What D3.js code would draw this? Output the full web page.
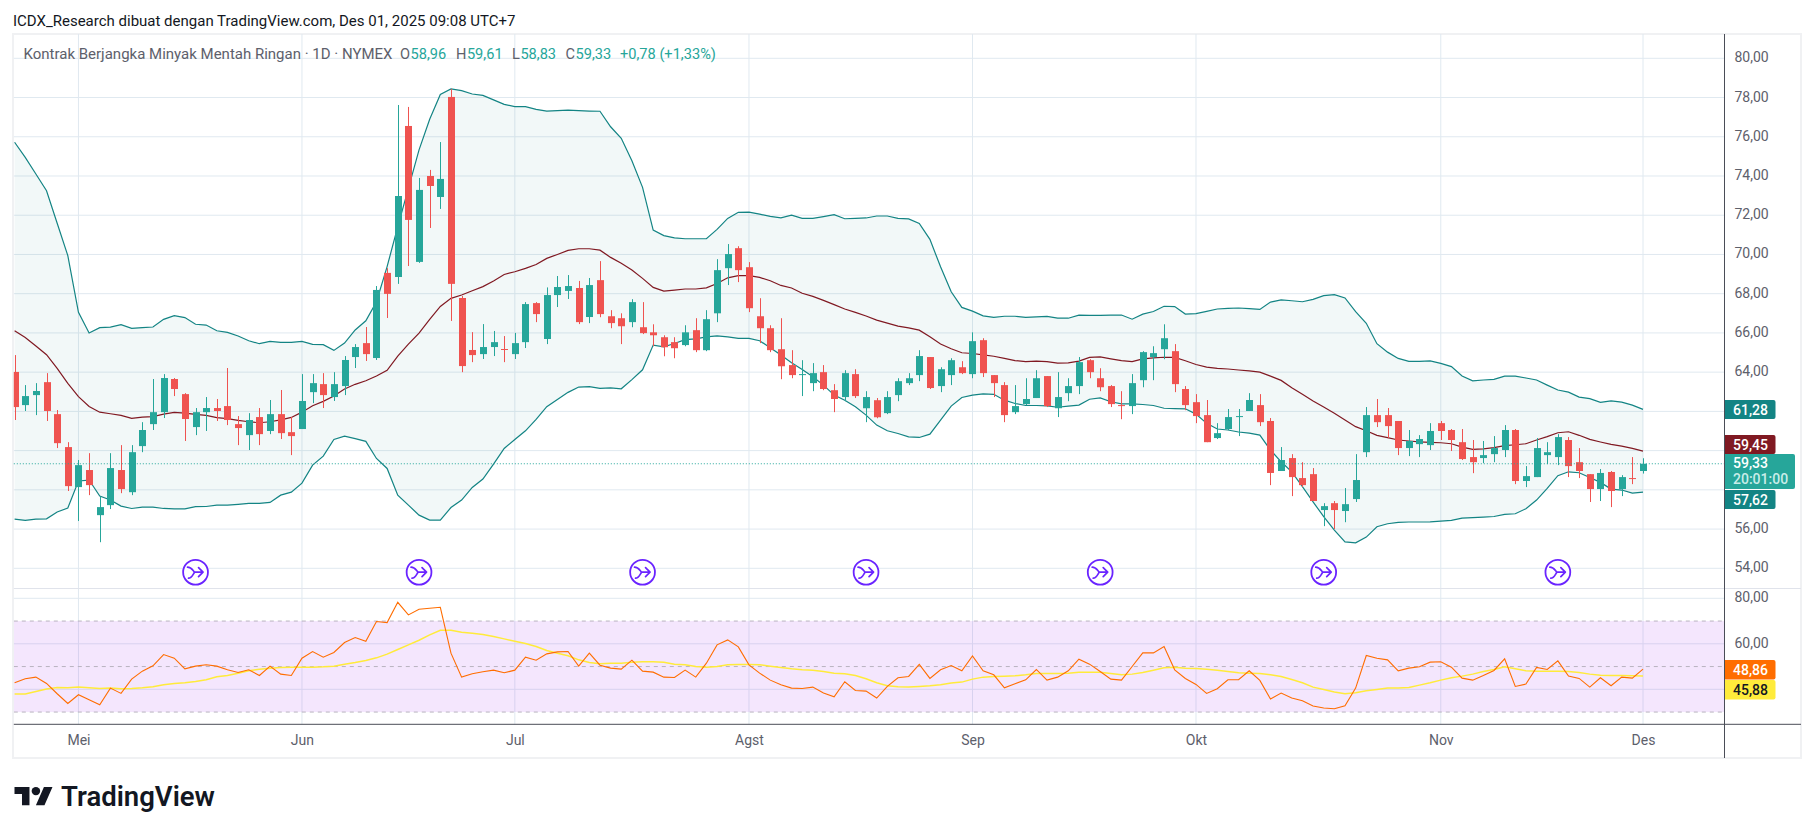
<!DOCTYPE html>
<html><head><meta charset="utf-8">
<script src="https://cdn.jsdelivr.net/npm/d3@7/dist/d3.min.js"></script>
<style>html,body{margin:0;padding:0;background:#fff}svg{display:block}text{font-family:Roboto,"Liberation Sans",sans-serif}</style>
</head><body><svg id="c" width="1814" height="834"></svg>
<script>
const open=[64.01,62.32,62.83,63.49,61.86,60.18,58.14,59.01,56.71,57.22,
59.01,57.88,60.23,61.35,61.96,63.65,62.88,61.20,61.96,62.17,
62.27,61.35,60.79,61.71,61.00,61.86,60.94,61.10,62.98,63.39,
62.73,63.29,64.77,65.48,64.72,69.06,68.85,76.55,69.62,74.00,
72.93,78.03,67.78,65.13,64.92,65.28,65.18,64.92,65.53,67.52,
65.69,67.93,68.14,68.29,66.81,68.69,66.85,66.75,66.55,66.29,
66.03,65.78,65.53,65.38,66.14,65.12,67.00,69.30,70.32,69.35,
66.85,66.24,65.17,64.36,63.85,63.44,64.00,63.08,62.73,63.90,
62.16,62.57,61.91,62.83,63.44,63.85,64.77,63.29,63.85,64.25,
63.90,65.63,63.85,63.34,61.96,62.37,62.68,63.80,62.16,62.93,
63.29,64.61,63.69,63.29,62.32,62.27,63.59,64.77,65.17,65.07,
63.14,62.47,61.81,60.64,61.10,61.71,62.02,62.32,61.51,58.96,
59.62,58.60,58.80,56.97,57.32,56.92,57.53,59.92,61.81,61.81,
61.51,60.13,60.33,60.28,61.40,61.05,60.43,59.67,59.62,59.82,
60.03,61.05,58.45,58.65,59.77,59.67,60.54,59.41,58.80,58.04,
58.91,58.04,58.60,58.96];
const close=[62.22,62.78,63.04,62.02,60.38,58.19,59.26,58.24,57.12,59.11,
58.04,59.92,61.05,61.96,63.70,63.14,61.61,61.96,62.17,62.02,
61.56,61.15,61.56,60.84,61.86,60.89,60.74,62.53,63.44,62.83,
63.39,64.62,65.28,64.92,68.19,67.99,72.98,71.76,73.29,73.49,
73.85,68.50,64.31,64.87,65.28,65.53,65.13,65.48,67.47,66.96,
67.93,68.34,68.39,66.55,68.44,66.96,66.50,66.34,67.57,65.99,
65.88,65.27,65.22,66.03,65.12,66.70,69.20,70.02,69.20,67.26,
66.24,65.12,64.30,63.85,63.90,63.95,63.14,62.63,63.95,62.78,
62.73,61.70,62.73,63.54,63.69,64.82,63.19,64.15,64.61,63.95,
65.58,63.95,63.44,61.81,62.27,62.63,63.69,62.27,62.73,63.29,
64.51,64.00,63.23,62.37,62.27,63.44,65.02,64.97,65.73,63.39,
62.32,61.76,60.43,60.89,61.71,61.76,62.58,61.45,58.86,59.52,
58.65,58.24,57.43,57.17,56.97,57.27,58.50,61.81,61.45,61.25,
60.13,60.49,60.59,61.00,61.00,60.54,59.57,59.41,59.77,60.13,
61.05,58.45,58.70,60.13,59.92,60.69,59.21,58.96,58.04,58.86,
57.94,58.65,58.55,59.33];
const high=[64.87,63.34,63.44,63.95,62.07,60.43,59.52,59.87,57.65,59.87,
60.28,60.28,61.45,63.65,63.90,63.70,62.93,62.17,62.73,62.63,
64.21,61.76,61.91,62.17,62.58,63.09,61.71,63.90,63.90,63.95,
64.00,64.82,65.43,66.30,68.39,69.30,77.62,77.52,73.90,74.31,
75.73,78.44,67.88,66.04,66.45,66.10,65.84,66.00,67.57,67.57,
68.32,68.90,68.95,68.65,68.80,69.66,67.16,67.00,67.72,67.57,
66.44,65.88,65.78,66.39,66.75,67.16,69.76,70.53,70.42,69.61,
67.77,66.39,66.75,65.12,64.61,64.46,64.36,63.39,64.10,64.15,
63.03,62.68,63.03,63.69,63.95,65.12,64.77,64.25,64.71,64.56,
66.03,65.73,63.85,63.49,63.34,63.69,64.10,63.80,64.00,63.69,
64.77,64.66,64.20,63.34,63.03,63.90,65.07,65.32,66.44,65.43,
63.29,62.88,62.58,61.40,62.12,62.12,62.93,62.88,61.66,60.18,
59.82,59.41,59.11,57.32,57.43,58.09,59.82,62.22,62.63,62.17,
61.51,61.05,60.79,61.40,61.51,61.10,61.10,60.54,60.49,60.74,
61.30,61.10,59.21,60.64,60.43,60.84,60.69,60.13,58.80,59.06,
58.96,58.75,59.67,59.61];
const low=[61.56,62.02,61.81,61.51,60.13,57.94,56.41,57.73,55.33,57.02,
57.83,57.73,59.92,61.05,61.66,62.78,60.49,60.79,61.00,61.51,
61.30,60.28,60.03,60.28,60.84,60.59,59.77,61.10,62.42,62.17,
62.53,62.83,64.21,64.57,64.62,66.76,68.50,69.41,69.57,71.35,
72.32,66.61,64.00,64.51,64.67,64.82,64.51,64.67,65.23,66.55,
65.43,67.32,67.73,66.45,66.50,66.80,66.24,65.43,66.29,65.94,
65.32,64.81,64.71,65.32,65.02,65.07,66.55,68.44,68.59,67.06,
65.48,65.02,63.64,63.69,62.78,63.03,63.08,61.96,62.52,62.68,
61.45,61.65,61.86,62.52,63.34,63.54,63.14,62.98,63.34,63.90,
63.69,63.75,62.73,61.45,61.86,62.32,62.68,62.22,61.71,62.52,
62.88,63.69,63.03,62.22,61.60,61.86,63.23,63.59,64.66,62.98,
62.06,61.40,60.43,60.59,61.05,60.74,62.02,61.25,58.24,58.96,
57.68,58.14,57.43,56.15,56.00,56.35,57.38,59.67,61.20,60.64,
59.77,59.72,59.67,60.03,60.54,59.98,59.52,58.85,59.36,59.41,
59.67,58.29,58.14,58.65,59.31,59.26,58.65,58.60,57.38,57.43,
57.12,57.68,58.29,58.83];
const bbUpper=[75.72,74.95,74.10,73.25,71.59,69.94,67.05,66.00,66.27,66.30,
66.42,66.23,66.27,66.30,66.69,66.88,66.78,66.44,66.40,66.11,
66.03,65.84,65.60,65.45,65.57,65.52,65.52,65.57,65.42,65.40,
65.11,65.48,66.15,66.62,67.59,69.38,71.42,73.37,75.33,76.89,
78.16,78.44,78.35,78.18,78.11,77.88,77.65,77.54,77.54,77.40,
77.31,77.33,77.36,77.33,77.31,77.30,76.51,75.92,74.78,73.42,
71.24,70.96,70.85,70.80,70.80,70.80,71.28,71.84,72.15,72.16,
72.06,71.94,71.87,72.00,71.84,71.84,71.93,72.03,71.82,71.84,
71.86,71.96,71.96,71.84,71.81,71.58,70.77,69.37,68.10,67.30,
67.11,66.87,66.79,66.85,66.85,66.79,66.82,66.84,66.75,66.75,
66.91,66.89,66.89,66.91,66.91,66.70,66.96,67.09,67.36,67.34,
66.96,66.98,67.10,67.22,67.25,67.27,67.24,67.20,67.57,67.68,
67.64,67.59,67.71,67.90,67.95,67.78,67.08,66.49,65.45,65.02,
64.70,64.55,64.55,64.57,64.45,64.28,63.80,63.56,63.60,63.63,
63.80,63.80,63.70,63.60,63.34,63.09,62.98,62.73,62.65,62.46,
62.54,62.47,62.32,62.10];
const bbBasis=[66.11,65.77,65.33,64.89,64.19,63.43,62.75,62.25,61.96,61.88,
61.80,61.64,61.71,61.73,61.86,61.95,61.91,61.85,61.80,61.68,
61.63,61.54,61.47,61.42,61.47,61.57,61.69,61.96,62.29,62.51,
62.78,63.14,63.38,63.56,63.80,64.09,64.82,65.43,65.99,66.69,
67.35,67.76,67.93,68.15,68.36,68.65,68.98,69.12,69.29,69.49,
69.80,70.00,70.21,70.29,70.29,70.22,69.85,69.55,69.21,68.78,
68.32,68.13,68.18,68.24,68.24,68.30,68.52,68.81,68.92,68.92,
68.83,68.66,68.42,68.29,68.02,67.86,67.66,67.44,67.22,67.05,
66.86,66.65,66.50,66.35,66.26,66.14,65.80,65.43,65.19,64.99,
64.95,64.88,64.81,64.70,64.59,64.54,64.56,64.54,64.46,64.47,
64.56,64.75,64.78,64.68,64.59,64.54,64.68,64.73,64.76,64.75,
64.58,64.39,64.26,64.19,64.16,64.11,64.06,64.00,63.80,63.58,
63.21,62.87,62.53,62.22,61.90,61.56,61.22,61.01,60.78,60.66,
60.54,60.49,60.45,60.42,60.40,60.35,60.18,60.06,60.09,60.15,
60.25,60.30,60.35,60.54,60.71,60.91,60.96,60.78,60.57,60.44,
60.32,60.23,60.11,59.97];
const bbLower=[56.51,56.44,56.51,56.52,56.87,57.07,58.45,58.50,57.68,57.48,
57.17,57.05,57.12,57.12,57.05,57.03,57.03,57.14,57.15,57.22,
57.22,57.26,57.31,57.31,57.36,57.73,57.88,58.34,59.26,59.72,
60.57,60.74,60.61,60.47,59.60,59.09,57.73,57.22,56.71,56.46,
56.46,57.10,57.48,58.12,58.55,59.31,60.11,60.57,61.01,61.59,
62.24,62.61,62.97,63.24,63.26,63.17,63.20,63.15,63.62,64.12,
65.38,65.29,65.46,65.66,65.70,65.80,65.85,65.80,65.72,65.72,
65.60,65.24,64.87,64.48,64.14,63.77,63.34,62.83,62.57,62.23,
61.81,61.30,61.01,60.87,60.70,60.67,60.84,61.55,62.27,62.71,
62.83,62.89,62.87,62.57,62.40,62.30,62.30,62.28,62.21,62.27,
62.32,62.62,62.69,62.49,62.38,62.38,62.35,62.30,62.16,62.14,
62.13,61.86,61.39,61.10,61.05,60.95,60.89,60.79,60.03,59.43,
58.92,58.16,57.39,56.63,55.95,55.35,55.30,55.59,56.12,56.27,
56.34,56.36,56.36,56.37,56.41,56.44,56.56,56.58,56.61,56.64,
56.75,56.78,57.04,57.48,58.07,58.72,58.92,58.87,58.63,58.38,
58.04,57.99,57.83,57.88];
const rsi=[42.87,44.62,45.35,42.57,38.04,33.80,37.60,35.41,33.22,40.53,
38.19,44.47,47.98,50.32,55.29,53.68,49.00,50.18,50.76,50.18,
48.57,47.40,48.57,46.08,50.18,46.67,46.08,53.68,56.61,54.12,
56.17,60.56,62.75,61.14,69.77,69.33,78.25,72.69,75.18,75.61,
76.05,55.88,45.35,46.81,47.69,48.42,47.25,48.42,54.12,52.81,
55.58,56.46,56.61,50.18,55.88,50.61,49.30,48.86,52.81,47.98,
47.54,45.35,45.20,48.42,45.35,51.49,59.53,61.72,58.65,50.76,
47.10,44.03,41.99,40.53,40.38,40.96,38.33,36.72,43.30,39.50,
39.21,36.14,41.26,45.06,45.64,50.91,44.77,48.57,50.47,48.13,
54.71,48.13,46.37,40.67,42.43,44.18,48.71,44.03,45.35,48.13,
53.25,51.05,47.84,44.47,44.03,50.03,56.02,56.02,58.80,48.57,
44.77,42.13,38.19,40.23,44.18,44.18,48.13,43.89,35.70,38.33,
36.14,34.97,32.63,31.75,31.46,32.78,40.53,54.85,53.68,52.95,
48.13,49.30,49.88,51.93,52.08,49.74,44.91,44.03,46.08,48.27,
53.39,41.26,42.28,49.59,48.71,52.51,45.79,44.77,40.96,45.06,
41.55,45.35,44.91,48.86];
const rsiMA=[37.89,37.89,39.06,40.09,40.82,40.67,40.96,40.67,40.38,40.53,
40.23,40.38,40.67,41.11,41.99,42.57,42.87,43.45,44.18,45.50,
46.08,47.10,48.13,48.86,49.30,49.59,49.74,49.74,49.74,49.88,
50.18,51.05,51.78,52.66,53.83,55.44,57.49,59.53,61.58,63.92,
65.96,65.96,65.09,64.65,64.06,63.19,62.16,61.14,60.12,58.80,
57.05,55.88,54.71,52.95,51.78,51.20,51.49,51.49,51.93,52.08,
52.08,51.93,51.05,50.76,50.03,49.74,50.03,50.76,50.91,50.91,
50.76,50.18,49.59,49.00,48.57,48.42,47.84,47.10,46.81,46.08,
44.62,42.87,41.55,41.11,40.96,41.26,41.55,41.99,42.72,43.16,
44.47,45.35,45.64,45.79,45.93,46.37,46.96,46.96,46.96,47.10,
47.54,47.54,47.54,46.96,46.37,46.67,47.40,48.42,49.44,49.74,
49.30,49.15,48.86,48.42,47.84,47.25,47.10,46.96,46.37,45.64,
44.33,42.87,40.96,39.94,38.77,38.04,38.48,39.36,39.94,40.53,
40.53,40.82,41.84,42.87,44.03,45.06,45.79,46.67,47.84,48.71,
49.88,49.00,48.13,47.98,47.98,47.98,47.84,47.40,46.67,46.23,
46.08,46.08,45.93,45.88];
const monthLabels=["Mei","Jun","Jul","Agst","Sep","Okt","Nov","Des"];
const monthBars=[6,27,47,69,90,111,134,153];
const priceGrid=[54,56,58,60,62,64,66,68,70,72,74,76,78,80];
const priceTicks=[54,56,64,66,68,70,72,74,76,78,80];
const rsiGrid=[80,60,40];
const rsiTicks=[80,60];
const rsiLevels=[70,50,30];
const rollBars=[17,38,59,80,102,123,145];
const rollPrice=53.8;
const lastPrice=59.33;
const headerText="ICDX_Research dibuat dengan TradingView.com, Des 01, 2025 09:08 UTC+7";
const legendTitle="Kontrak Berjangka Minyak Mentah Ringan · 1D · NYMEX";
const legendOHLC=[["O","58,96"],["H","59,61"],["L","58,83"],["C","59,33"]];
const legendChange="+0,78 (+1,33%)";

const comma=d=>d.toFixed(2).replace(".",",");
const svg=d3.select("#c");
const L=13.8,R=1724.5,PT=34,PB=588,RT=589,RB=724.3,B=758,OR=1801;
const x=d3.scaleLinear().domain([0,153]).range([14.6,1643]);
const y=d3.scaleLinear().domain([54,80]).range([568.3,58.3]);
const yr=d3.scaleLinear().domain([40,80]).range([689.3,598.3]);

const defs=svg.append("defs");
defs.append("clipPath").attr("id","main").append("rect").attr("x",L).attr("y",PT).attr("width",R-L).attr("height",PB-PT);
defs.append("clipPath").attr("id","sub").append("rect").attr("x",L).attr("y",RT).attr("width",R-L).attr("height",RB-RT);

// frame
svg.append("rect").attr("x",13).attr("y",34).attr("width",OR-13).attr("height",B-34).attr("fill","#fff").attr("stroke","#f0f1f3").attr("stroke-width",2);

// grids
const gridCol="#e0e9f0";
const g=svg.append("g");
g.selectAll("line.h").data(priceGrid).join("line").attr("x1",L).attr("x2",R).attr("y1",d=>y(d)).attr("y2",d=>y(d)).attr("stroke",gridCol);
g.selectAll("line.r").data(rsiGrid).join("line").attr("x1",L).attr("x2",R).attr("y1",d=>yr(d)).attr("y2",d=>yr(d)).attr("stroke",gridCol);
monthBars.forEach(b=>{g.append("line").attr("x1",x(b)).attr("x2",x(b)).attr("y1",PT).attr("y2",PB).attr("stroke",gridCol);
 g.append("line").attr("x1",x(b)).attr("x2",x(b)).attr("y1",RT).attr("y2",RB).attr("stroke",gridCol);});

// bollinger
const idx=d3.range(open.length);
const main=svg.append("g").attr("clip-path","url(#main)");
main.append("path").datum(idx).attr("fill","rgba(0,110,110,0.05)").attr("d",d3.area().x(i=>x(i)).y0(i=>y(bbLower[i])).y1(i=>y(bbUpper[i])));
const ln=a=>d3.line().x((d,i)=>x(i)).y(d=>y(d))(a);
main.append("path").attr("d",ln(bbUpper)).attr("fill","none").attr("stroke","#138484").attr("stroke-width",1.2);
main.append("path").attr("d",ln(bbLower)).attr("fill","none").attr("stroke","#138484").attr("stroke-width",1.2);
main.append("path").attr("d",ln(bbBasis)).attr("fill","none").attr("stroke","#801922").attr("stroke-width",1.2);

// candles
const col=i=>close[i]>=open[i]?"#26a69a":"#ef5350";
main.selectAll("line.w").data(idx).join("line").attr("x1",i=>Math.round(x(i))+.5).attr("x2",i=>Math.round(x(i))+.5).attr("y1",i=>y(high[i])).attr("y2",i=>y(low[i])).attr("stroke",col);
main.selectAll("rect.b").data(idx).join("rect").attr("x",i=>Math.round(x(i))+.5-3.5).attr("width",7).attr("y",i=>y(Math.max(open[i],close[i]))).attr("height",i=>Math.max(1,Math.abs(y(open[i])-y(close[i])))).attr("fill",col);

// last price line
svg.append("line").attr("x1",L).attr("x2",R).attr("y1",y(lastPrice)).attr("y2",y(lastPrice)).attr("stroke","#26a69a").attr("stroke-width",1).attr("stroke-dasharray","1 2");

// roll icons
const ic=svg.append("g").selectAll("g").data(rollBars).join("g").attr("transform",b=>`translate(${x(b)},${y(rollPrice)})`);
ic.append("circle").attr("r",12.4).attr("fill","#fff").attr("stroke","#6a24ff").attr("stroke-width",1.8);
ic.append("path").attr("d","M-8,-5 C-4,-5 -3,-2 -1,0 M-7,6 C-4,6 -3,3 -1,0 H7 M3,-4.5 L7.5,0 L3,4.5").attr("fill","none").attr("stroke","#6a24ff").attr("stroke-width",1.7).attr("stroke-linecap","round").attr("stroke-linejoin","round");

// RSI
const sub=svg.append("g").attr("clip-path","url(#sub)");
sub.append("rect").attr("x",L).attr("width",R-L).attr("y",yr(70)).attr("height",yr(30)-yr(70)).attr("fill","rgba(156,39,240,0.115)");
sub.selectAll("line.l").data(rsiLevels).join("line").attr("x1",L).attr("x2",R).attr("y1",d=>yr(d)).attr("y2",d=>yr(d)).attr("stroke","#b8b3bf").attr("stroke-dasharray","4 4");
const lr=a=>d3.line().x((d,i)=>x(i)).y(d=>yr(d))(a);
sub.append("path").attr("d",lr(rsiMA)).attr("fill","none").attr("stroke","#ffeb3b").attr("stroke-width",1.5);
sub.append("path").attr("d",lr(rsi)).attr("fill","none").attr("stroke","#ff6d00").attr("stroke-width",1.1);

// separators
const sep="#e0e3eb";
svg.append("line").attr("x1",L).attr("x2",OR).attr("y1",588.5).attr("y2",588.5).attr("stroke",sep).attr("stroke-width",1.2);
svg.append("line").attr("x1",L).attr("x2",OR).attr("y1",RB).attr("y2",RB).attr("stroke","#4a4d57");
svg.append("line").attr("x1",R).attr("x2",R).attr("y1",PT).attr("y2",B).attr("stroke","#4a4d57");

// axes
const styleAxis=s=>{s.select(".domain").remove();s.selectAll(".tick line").remove();s.selectAll("text").attr("fill","#5d606b").attr("font-size",14).attr("font-family","Roboto");};
svg.append("g").attr("transform",`translate(${R},-1)`).call(d3.axisRight(y).tickValues(priceTicks).tickFormat(comma).tickSize(0).tickPadding(10)).call(styleAxis);
svg.append("g").attr("transform",`translate(${R},-1)`).call(d3.axisRight(yr).tickValues(rsiTicks).tickFormat(comma).tickSize(0).tickPadding(10)).call(styleAxis);
const xt=d3.scaleOrdinal().domain(monthLabels).range(monthBars.map(b=>x(b)));
svg.append("g").attr("transform",`translate(0,${RB})`).call(d3.axisBottom(xt).tickSize(0).tickPadding(11)).call(styleAxis);

// tags
function tag(yTop,h,w,fill,lines){
 svg.append("path").attr("d",`M${R+.5},${yTop}H${R+w-2}q2,0 2,2V${yTop+h-2}q0,2 -2,2H${R+.5}Z`).attr("fill",fill);
 lines.forEach(l=>svg.append("text").attr("x",R+8.5).attr("y",yTop+l.dy).attr("fill",l.c).attr("font-size",14).attr("font-weight",500).text(l.t));
}
tag(400,19,51,"#138484",[{t:"61,28",dy:14.5,c:"#fff"}]);
tag(490,19,51,"#138484",[{t:"57,62",dy:14.5,c:"#fff"}]);
tag(435,19,51,"#801922",[{t:"59,45",dy:14.5,c:"#fff"}]);
tag(454,35,70.5,"#26a69a",[{t:"59,33",dy:13.5,c:"#fff"},{t:"20:01:00",dy:30,c:"#c9ede9"}]);
tag(660,19.5,51,"#ff6d00",[{t:"48,86",dy:14.5,c:"#fff"}]);
tag(680,19.5,51,"#ffeb3b",[{t:"45,88",dy:14.5,c:"#131722"}]);

// header + legend
svg.append("text").attr("x",13).attr("y",25.5).attr("font-size",15).attr("fill","#131722").text(headerText);
svg.append("text").attr("x",23.5).attr("y",58.7).attr("font-size",15).attr("fill","#5d606b").text(legendTitle);
const lx=[400,456,512,565.6];
legendOHLC.forEach((p,i)=>{
 const t=svg.append("text").attr("x",lx[i]).attr("y",58.7).attr("font-size",14.6);
 t.append("tspan").attr("fill","#5d606b").text(p[0]);
 t.append("tspan").attr("fill","#26a69a").attr("dx",0.5).text(p[1]);
});
svg.append("text").attr("x",620).attr("y",58.7).attr("font-size",14.6).attr("fill","#26a69a").text(legendChange);

// logo
const lg=svg.append("g").attr("transform","translate(14.5,782.9) scale(1.07,1.02)").attr("fill","#131722");
lg.append("path").attr("d","M14 22H7V11H0V4h14v18zM28 22h-8l7.5-18h8L28 22z");
lg.append("circle").attr("cx",20).attr("cy",8).attr("r",4);
svg.append("text").attr("x",61).attr("y",805.5).attr("font-size",27.5).attr("font-weight",600).attr("fill","#131722").attr("font-family","Inter").text("TradingView");
</script></body></html>
